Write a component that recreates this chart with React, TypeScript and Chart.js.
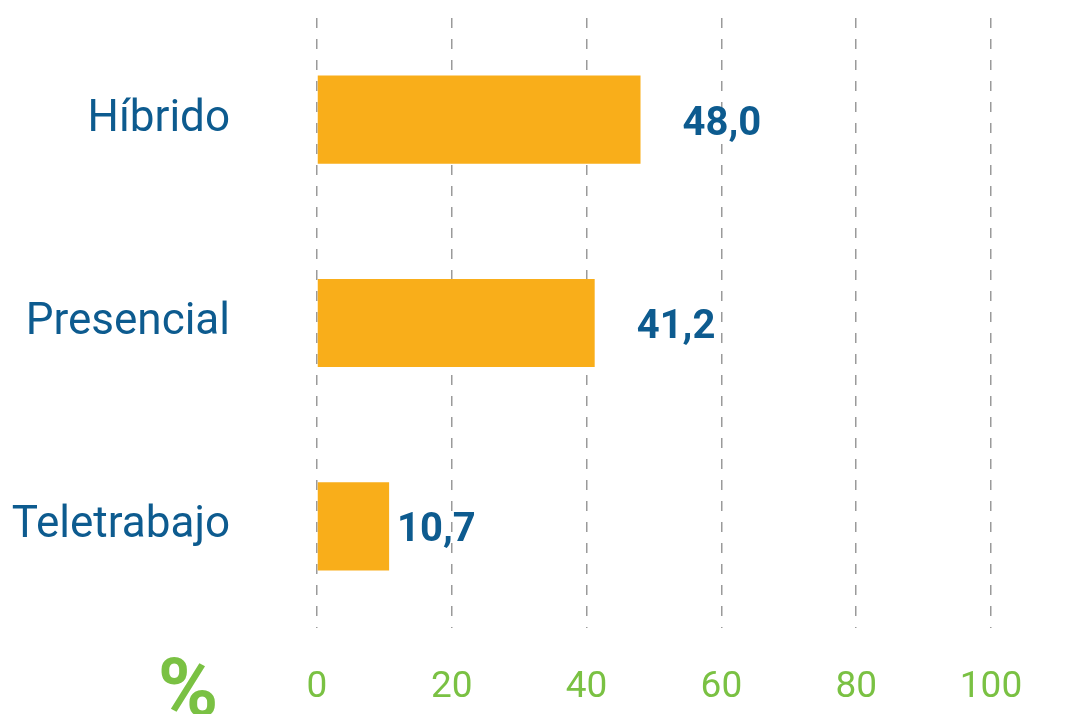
import React, { useEffect, useRef } from "react";
import { Chart, registerables } from "chart.js";

Chart.register(...registerables);

const categories = ["Híbrido", "Presencial", "Teletrabajo"];
const values = [48.0, 41.2, 10.7];
const xTicks = [0, 20, 40, 60, 80, 100];
const unitLabel = "%";

const BLUE = "#0d5b8f";
const GREEN = "#7ac143";
const BAR = "#f9ae1a";
const LABEL_OFFSETS = [42, 42, 8];

export default function App() {
  const ref = useRef<HTMLCanvasElement>(null);

  useEffect(() => {
    document.body.style.margin = "0";
    const canvas = ref.current;
    if (!canvas) return;

    const valueLabels = {
      id: "valueLabels",
      afterDatasetsDraw(chart: any) {
        const ctx = chart.ctx;
        const meta = chart.getDatasetMeta(0);
        ctx.save();
        ctx.font = "bold 40px Roboto";
        ctx.fillStyle = BLUE;
        ctx.textAlign = "left";
        ctx.textBaseline = "middle";
        meta.data.forEach((bar: any, i: number) => {
          const txt = values[i].toFixed(1).replace(".", ",");
          ctx.fillText(txt, bar.x + LABEL_OFFSETS[i], bar.y + 5);
        });
        ctx.font = "bold 82px Roboto";
        ctx.fillStyle = GREEN;
        ctx.textAlign = "center";
        ctx.textBaseline = "alphabetic";
        ctx.fillText(unitLabel, 188, 716);
        ctx.restore();
      },
    };

    const chart = new Chart(canvas, {
      type: "bar",
      data: {
        labels: categories,
        datasets: [
          {
            data: values,
            backgroundColor: BAR,
            borderWidth: 0,
            categoryPercentage: 1,
            barPercentage: 0.434,
          },
        ],
      },
      options: {
        indexAxis: "y",
        animation: false,
        responsive: false,
        maintainAspectRatio: false,
        layout: { padding: { top: 18, right: 81, left: 0, bottom: 0 } },
        plugins: {
          legend: { display: false },
          tooltip: { enabled: false },
        },
        scales: {
          x: {
            min: 0,
            max: 100,
            afterBuildTicks(scale: any) {
              scale.ticks = xTicks.map((v) => ({ value: v }));
            },
            afterFit(scale: any) {
              scale.height = 86;
            },
            grid: {
              color: "#9a9a9a",
              lineWidth: 1.5,
              drawTicks: false,
            },
            border: { display: false, dash: [10, 11] },
            ticks: {
              color: GREEN,
              font: { family: "Roboto", size: 37 },
              padding: 38,
            },
          },
          y: {
            afterFit(scale: any) {
              scale.width = 317;
              scale.paddingTop = 0;
              scale.paddingBottom = 0;
            },
            grid: { display: false, drawTicks: false },
            border: { display: false },
            ticks: {
              color: BLUE,
              font: { family: "Roboto", size: 44 },
              padding: 87,
            },
          },
        },
      },
      plugins: [valueLabels],
    });

    return () => chart.destroy();
  }, []);

  return (
    <div style={{ width: 1072, height: 714 }}>
      <canvas ref={ref} width={1072} height={714} style={{ display: "block" }} />
    </div>
  );
}
